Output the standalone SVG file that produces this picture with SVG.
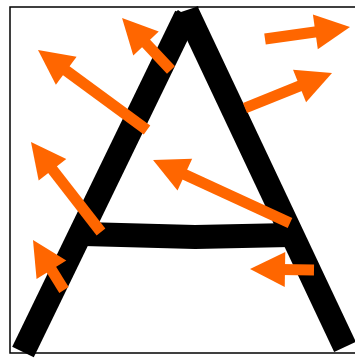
<svg xmlns="http://www.w3.org/2000/svg" width="355" height="359" viewBox="0 0 355 359">
<style>
.frame{fill:none;stroke:#000;stroke-width:1.5}
.stroke{fill:none;stroke:#000;stroke-width:24;stroke-linecap:butt;stroke-linejoin:miter}
.arrow{fill:none;stroke:#ff6600;stroke-width:11;marker-end:url(#head)}
</style>
<defs>
<marker id="head" markerUnits="userSpaceOnUse" markerWidth="35" markerHeight="35" viewBox="0 0 35 35" refX="5" refY="17.5" orient="auto" overflow="visible">
<path d="M0,0 L35,17.5 L0,35 Z" fill="#ff6600"/>
</marker>
</defs>
<rect width="355" height="359" fill="#fff"/>
<rect class="frame" x="10" y="7" width="360" height="346"/>
<g id="letter-A">
<line class="stroke" x1="23" y1="352" x2="186" y2="16"/>
<line class="stroke" x1="345" y1="347" x2="188" y2="14"/>
<polygon points="175,13 178,10 181,12 193,8 198,6 199,10 187,30" fill="#000"/>
<polyline class="stroke" points="84,234 195,237 290,235"/>
</g>
<g id="arrows">
<line class="arrow" x1="171" y1="70" x2="142.6" y2="39.8"/>
<line class="arrow" x1="147" y1="130" x2="62.2" y2="67.8"/>
<line class="arrow" x1="101" y1="232" x2="49.4" y2="165.7"/>
<line class="arrow" x1="64" y1="290" x2="48.8" y2="265.5"/>
<line class="arrow" x1="290" y1="223" x2="180.3" y2="172.5"/>
<line class="arrow" x1="314" y1="270" x2="280" y2="269.5"/>
<line class="arrow" x1="265" y1="39" x2="320.3" y2="31.2"/>
<line class="arrow" x1="245" y1="108" x2="304.2" y2="84.2"/>
</g>
</svg>
